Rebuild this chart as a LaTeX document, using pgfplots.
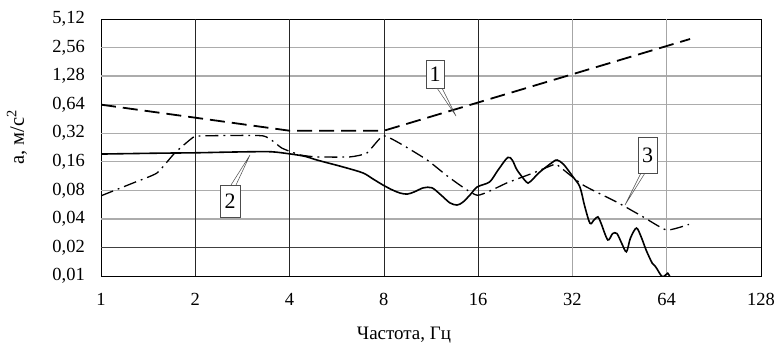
\documentclass[border=0pt]{standalone}
\usepackage{fontspec}
\setmainfont{Liberation Serif}
\usepackage{pgfplots}
\pgfplotsset{compat=1.18}
\begin{document}
\begin{tikzpicture}[x=1pt,y=1pt]
\useasboundingbox (0,0) rectangle (777,344);
\begin{axis}[at={(101pt,68pt)}, anchor=south west, scale only axis,
  width=660pt, height=257pt,
  xmode=log, ymode=log, log basis x=2, log basis y=2,
  xmin=1, xmax=128, ymin=0.01, ymax=5.12,
  xtick={1,2,4,8,16,32,64,128},
  xticklabels={1,2,4,8,16,32,64,128},
  ytick={0.01,0.02,0.04,0.08,0.16,0.32,0.64,1.28,2.56,5.12},
  yticklabels={{0,01},{0,02},{0,04},{0,08},{0,16},{0,32},{0,64},{1,28},{2,56},{5,12}},
  major tick length=0pt,
  tick label style={font=\fontsize{18.5}{22}\selectfont, inner sep=0pt},
  xticklabel style={anchor=north, yshift=-17pt},
  yticklabel style={anchor=east, xshift=-16pt},
  axis line style={black, line width=0.9pt},
  clip=true,
]
% grid
\draw[gray!65, line width=1.3pt] (axis cs:1,0.04) -- (axis cs:128,0.04);
\draw[gray!65, line width=1.3pt] (axis cs:1,0.08) -- (axis cs:128,0.08);
\draw[gray!65, line width=1.3pt] (axis cs:1,0.16) -- (axis cs:128,0.16);
\draw[gray!65, line width=1.3pt] (axis cs:1,0.32) -- (axis cs:128,0.32);
\draw[gray!65, line width=1.3pt] (axis cs:1,0.64) -- (axis cs:128,0.64);
\draw[gray!65, line width=1.3pt] (axis cs:1,1.28) -- (axis cs:128,1.28);
\draw[gray!65, line width=1.3pt] (axis cs:1,2.56) -- (axis cs:128,2.56);
\draw[black!75, line width=1.3pt] (axis cs:1,0.02) -- (axis cs:128,0.02);
\draw[black!85, line width=0.7pt] (axis cs:2,0.01) -- (axis cs:2,5.12);
\draw[black!85, line width=0.7pt] (axis cs:4,0.01) -- (axis cs:4,5.12);
\draw[black!85, line width=0.7pt] (axis cs:8,0.01) -- (axis cs:8,5.12);
\draw[black!85, line width=0.7pt] (axis cs:16,0.01) -- (axis cs:16,5.12);
\draw[gray!70, line width=1.1pt] (axis cs:32,0.01) -- (axis cs:32,5.12);
\draw[gray!70, line width=1.1pt] (axis cs:64,0.01) -- (axis cs:64,5.12);

% curve 1 (dashed)
\addplot[black, line width=1.8pt, dash pattern=on 15pt off 7pt] coordinates {
(1,0.64) (4,0.34) (8,0.34) (76,3.15)};

% curve 3 (dash-dot)
\addplot[black, line width=1.3pt, dash pattern=on 13pt off 5pt on 1.8pt off 5pt, smooth, tension=0.3] coordinates {
(1,0.07) (1.27,0.096) (1.51,0.122) (1.72,0.198) (1.97,0.29) (2.1,0.30) (3.29,0.30)
(3.78,0.223) (4.32,0.189) (4.89,0.18) (6.23,0.18) (7.06,0.198) (7.95,0.30)
(9.0,0.25) (11,0.167) (13,0.108) (15.9,0.071) (19.8,0.096) (24,0.122) (27.7,0.148)
(28.5,0.15) (34.6,0.091) (44.4,0.06) (53.8,0.042) (64,0.0305) (75.4,0.035)};

% curve 2 (solid)
\addplot[black, line width=1.6pt, smooth, tension=0.5] coordinates {
(1,0.193) (1.5,0.197) (2,0.199) (2.5,0.202) (3,0.204) (3.5,0.204) (4,0.194)
(4.5,0.182) (4.89,0.167) (5.93,0.141) (6.86,0.122) (7.4,0.105) (7.95,0.091)
(8.5,0.081) (9.0,0.075) (9.5,0.073) (10.0,0.077) (10.7,0.085) (11.4,0.085)
(12.2,0.071) (13,0.059) (13.7,0.056) (14.3,0.060) (15.1,0.072) (15.9,0.087)
(17.4,0.098) (18.5,0.13) (19.9,0.178) (20.6,0.165) (21.3,0.131) (22.8,0.098)
(23.4,0.098) (25.2,0.125) (27.7,0.159) (28.6,0.167) (30,0.150) (32.2,0.11)
(33.8,0.087) (35,0.055) (36.4,0.036) (37.5,0.039) (38.6,0.042) (39.5,0.036)
(41.5,0.024) (43,0.028) (44.4,0.028) (46,0.022) (47.6,0.018) (49,0.025)
(51.2,0.032) (53,0.026) (55,0.0188) (57.5,0.0137) (59,0.0125) (61.6,0.0100)
(63,0.0100) (64.5,0.0107) (65.5,0.0098)};
\end{axis}

% axis labels
\node[rotate=90, font=\fontsize{20.5}{24}\selectfont] at (17,207) {a, м/с\textsuperscript{2}};
\node[anchor=base, font=\fontsize{19}{22}\selectfont] at (404,4) {Частота, Гц};

% callouts
\draw[black!70, line width=0.5pt] (437,256) -- (456,228) -- (442,256);
\draw[black!70, line width=0.5pt, fill=white] (426,256) rectangle (444,284);
\node[font=\fontsize{22}{26}\selectfont, inner sep=0pt] at (435,270) {1};

\draw[black!70, line width=0.5pt] (231,159) -- (250,189) -- (236,159);
\draw[black!70, line width=0.5pt, fill=white] (220,127) rectangle (240,159);
\node[font=\fontsize{22}{26}\selectfont, inner sep=0pt] at (230,143) {2};

\draw[black!70, line width=0.5pt] (641,171) -- (625,139) -- (645,171);
\draw[black!70, line width=0.5pt, fill=white] (638,171) rectangle (657,207);
\node[font=\fontsize{22}{26}\selectfont, inner sep=0pt] at (647.5,189) {3};
\end{tikzpicture}
\end{document}
